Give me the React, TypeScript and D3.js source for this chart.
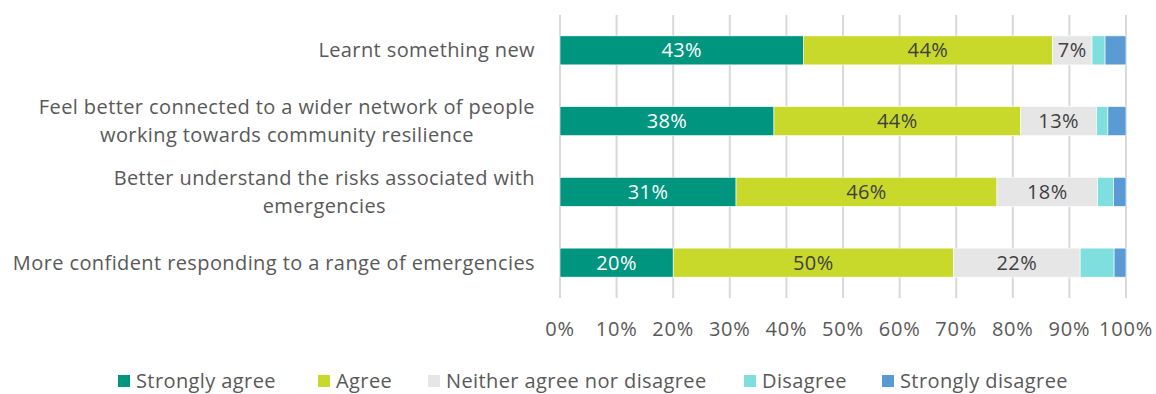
import React from "react";
import * as d3 from "d3";

const categories = [
  ["Learnt something new"],
  ["Feel better connected to a wider network of people", "working towards community resilience"],
  ["Better understand the risks associated with", "emergencies"],
  ["More confident responding to a range of emergencies"],
];
const seriesNames = ["Strongly agree", "Agree", "Neither agree nor disagree", "Disagree", "Strongly disagree"];
const stronglyAgree = [43, 37.8, 31.1, 20];
const agree = [44, 43.6, 46.1, 49.5];
const neither = [7, 13.4, 17.8, 22.4];
const disagree = [2.3, 2.0, 2.8, 6.0];
const stronglyDisagree = [3.7, 3.2, 2.2, 2.1];
const labelsShown = [true, true, true, false, false];
const tickValues = [0, 10, 20, 30, 40, 50, 60, 70, 80, 90, 100];
const colors = ["#00957F", "#C8D92B", "#E6E6E6", "#7FDEDE", "#5B9BD5"];

const W = 1156;
const H = 394;
const FONT = "'Open Sans', Lato, sans-serif";
const LS = 0.4;

export default function App() {
  const series = [stronglyAgree, agree, neither, disagree, stronglyDisagree];
  const x = d3.scaleLinear().domain([0, 100]).range([560, 1126]);
  const y = d3
    .scaleBand<number>()
    .domain(d3.range(categories.length))
    .range([15, 298])
    .paddingInner(0.59)
    .paddingOuter(0.295);
  const bw = y.bandwidth();

  const legendX = [118, 318, 428, 744, 882];

  return (
    <svg width={W} height={H} style={{ position: "absolute", left: 0, top: 0, background: "#fff" }}>
      {tickValues.map((t) => (
        <line key={t} x1={x(t)} x2={x(t)} y1={15} y2={298} stroke="#D9D9D9" strokeWidth={2} />
      ))}
      {categories.map((lines, i) => {
        const cy = (y(i) as number) + bw / 2;
        const lh = 27.5;
        const top = cy - ((lines.length - 1) * lh) / 2;
        return lines.map((l, j) => (
          <text
            key={i + "-" + j}
            x={535}
            y={top + j * lh}
            dy="0.35em"
            textAnchor={lines.length > 1 ? "middle" : "end"}
            fontFamily={FONT}
            fontSize={20}
            letterSpacing={LS}
            fill="#595959"
            data-cat={i}
            ref={(el) => {
              if (el && lines.length > 1 && el.parentNode) {
                const sib = Array.from(el.parentNode.querySelectorAll(`text[data-cat="${i}"]`)) as SVGTextElement[];
                const maxW = Math.max(...sib.map((s) => s.getComputedTextLength()));
                sib.forEach((s) => s.setAttribute("x", String(535 - maxW / 2)));
              }
            }}
          >
            {l}
          </text>
        ));
      })}
      {categories.map((_, i) => {
        let acc = 0;
        return series.map((s, k) => {
          const v = s[i];
          const x0 = x(acc);
          acc += v;
          const x1 = x(acc);
          return (
            <g key={i + "-" + k}>
              <rect x={x0} y={y(i)} width={x1 - x0} height={bw} fill={colors[k]} stroke="#fff" strokeWidth={0.6} />
              {labelsShown[k] && (
                <text
                  x={(x0 + x1) / 2}
                  y={(y(i) as number) + bw / 2}
                  dy="0.35em"
                  textAnchor="middle"
                  fontFamily={FONT}
                  fontSize={20}
                  letterSpacing={LS}
                  fill={k === 0 ? "#FFFFFF" : "#404040"}
                >
                  {Math.round(v)}%
                </text>
              )}
            </g>
          );
        });
      })}
      {tickValues.map((t) => (
        <text key={"t" + t} x={x(t)} y={329} dy="0.35em" textAnchor="middle" fontFamily={FONT} fontSize={20} letterSpacing={0.8} fill="#595959">
          {t}%
        </text>
      ))}
      {seriesNames.map((n, k) => (
        <g key={n}>
          <rect x={legendX[k]} y={375} width={12} height={12} fill={colors[k]} />
          <text x={legendX[k] + 18} y={381} dy="0.35em" fontFamily={FONT} fontSize={20} letterSpacing={LS} fill="#595959">
            {n}
          </text>
        </g>
      ))}
    </svg>
  );
}
